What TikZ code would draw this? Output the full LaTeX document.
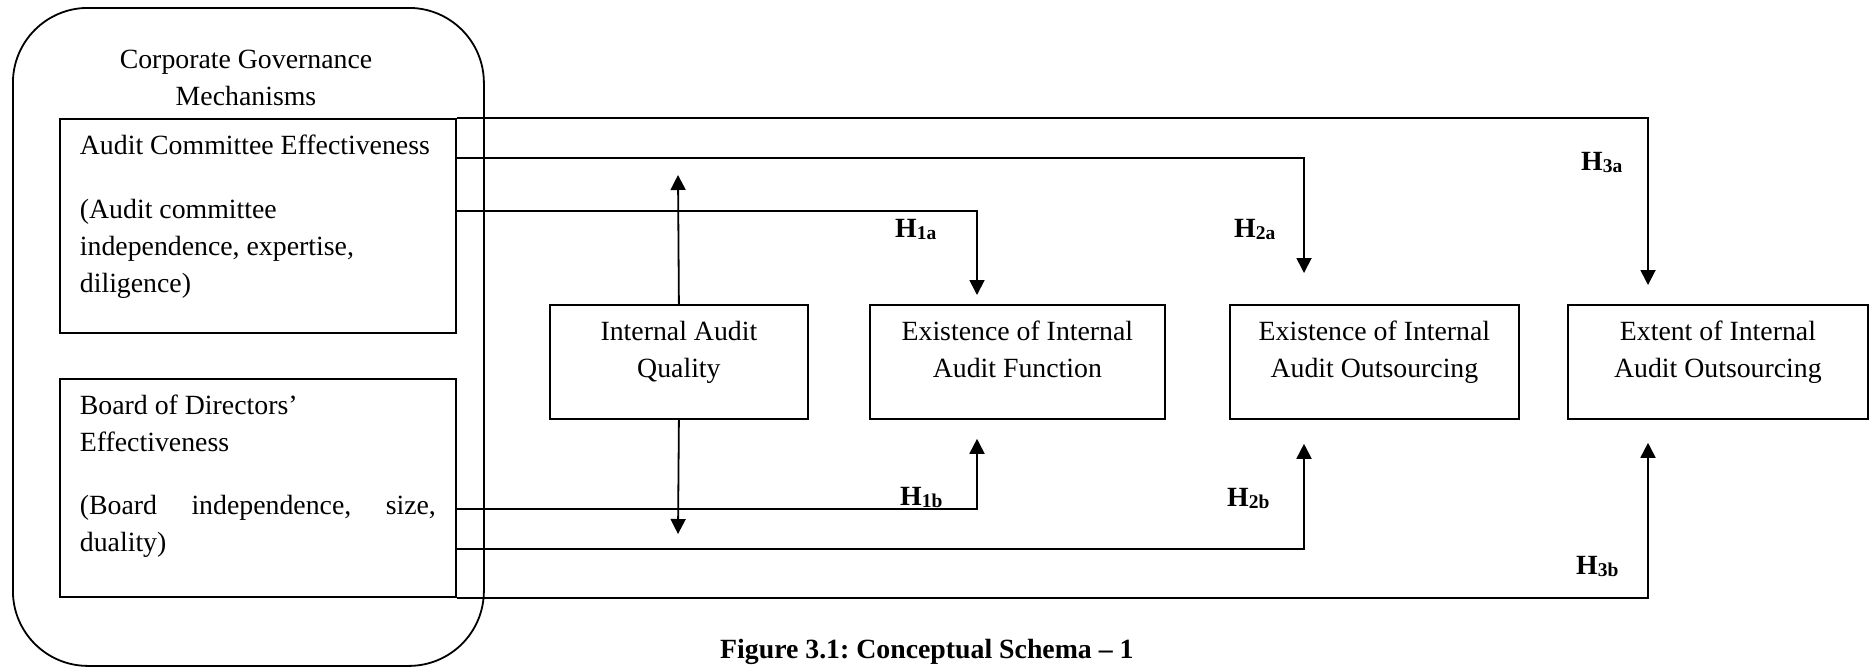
\documentclass[tikz,border=0pt]{standalone}
\usepackage{fontspec}
\setmainfont{Liberation Serif}
\usetikzlibrary{arrows.meta}
\newcommand{\boxtxt}[3]{\parbox[c][#2][t]{#1}{#3}}
\newcommand{\hyp}[1]{\textbf{H\raisebox{-2pt}{\fontsize{19.5}{20}\selectfont #1}}}

\begin{document}
\begin{tikzpicture}[x=1pt, y=-1pt, >={Triangle[width=15pt,length=15pt]},
  every node/.style={font=\fontsize{27.8}{37}\selectfont, inner sep=0pt},
  lbox/.style={draw, line width=1.8pt, inner xsep=20pt, inner ysep=16pt, anchor=north west},
  rbox/.style={draw, line width=1.8pt, inner xsep=10pt, inner ysep=16pt, anchor=north west},
  link/.style={->, line width=1.8pt}]
  \useasboundingbox (0,0) rectangle (1870,667);

  % Governance mechanisms
  \node[draw, line width=1.8pt, rounded corners=75pt, minimum width=471pt,
        minimum height=658pt, anchor=north west] (cgm) at (12,7) {};
  \node[align=center] (cgmtitle) at (246,78) {Corporate Governance\\Mechanisms};
  \node[lbox] (ace) at (59,118) {\boxtxt{356pt}{182pt}{Audit Committee Effectiveness\\[27pt](Audit committee\\independence, expertise,\\diligence)}};
  \node[lbox] (bod) at (59,378) {\boxtxt{356pt}{186pt}{Board of Directors'\\Effectiveness\\[26pt](Board\hfill independence,\hfill size,\\duality)}};

  % Outcome boxes
  \node[rbox] (iaq) at (549,304) {\boxtxt{238pt}{82pt}{\centering Internal Audit\\Quality}};
  \node[rbox] (eiaf) at (869,304) {\boxtxt{275pt}{82pt}{\centering Existence of Internal\\Audit Function}};
  \node[rbox] (eiao) at (1229,304) {\boxtxt{269pt}{82pt}{\centering Existence of Internal\\Audit Outsourcing}};
  \node[rbox] (ext) at (1567,304) {\boxtxt{280pt}{82pt}{\centering Extent of Internal\\Audit Outsourcing}};

  % Internal audit quality arrows
  \coordinate (iaqtop) at (678,175);
  \coordinate (iaqbot) at (678,534);
  \draw[link] (iaq.north) -- (iaqtop);
  \draw[link] (iaq.south) -- (iaqbot);

  % Hypothesis paths
  \draw[link, shorten >=9pt] ([yshift=-93pt]ace.north east) -| ([xshift=108pt]eiaf.north west);
  \draw[link, shorten >=31pt] ([yshift=-40pt]ace.north east) -| ([xshift=75pt]eiao.north west);
  \draw[link, shorten >=19pt] (ace.north east) -| ([xshift=81pt]ext.north west);
  \draw[link, shorten >=19pt] ([yshift=-131pt]bod.north east) -| ([xshift=108pt]eiaf.south west);
  \draw[link, shorten >=24pt] ([yshift=-171pt]bod.north east) -| ([xshift=75pt]eiao.south west);
  \draw[link, shorten >=23pt] (bod.south east) -| ([xshift=81pt]ext.south west);

  % Hypothesis labels
  \node[anchor=base west] (h1a) at (895,237) {\hyp{1a}};
  \node[anchor=base west] (h2a) at (1234,237) {\hyp{2a}};
  \node[anchor=base west] (h3a) at (1581,170) {\hyp{3a}};
  \node[anchor=base west] (h1b) at (900,505) {\hyp{1b}};
  \node[anchor=base west] (h2b) at (1227,506) {\hyp{2b}};
  \node[anchor=base west] (h3b) at (1576,574) {\hyp{3b}};

  % Caption
  \node[anchor=base west] (caption) at (720,658) {\frenchspacing\bfseries Figure 3.1: Conceptual Schema – 1};
\end{tikzpicture}
\end{document}
